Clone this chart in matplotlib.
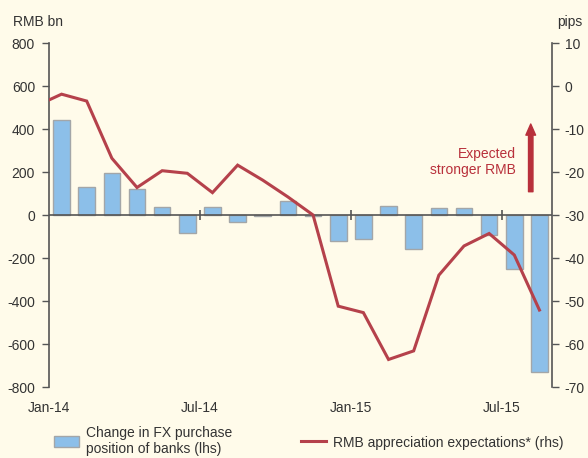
import matplotlib

matplotlib.use("Agg")
import matplotlib.pyplot as plt
import numpy as np
from matplotlib.lines import Line2D
from matplotlib.patches import Patch

# ---- palette --------------------------------------------------------------
BG = "#fffbea"
BAR = "#8cbfe9"
BAR_EDGE = "#a3a6a8"
RED = "#b5414b"
ARROW_RED = "#b8303b"
INK = "#333333"
AXIS = "#555555"

plt.rcParams["font.family"] = ["Liberation Sans", "DejaVu Sans"]
plt.rcParams["axes.unicode_minus"] = False

# ---- data (monthly, Jan-14 .. Aug-15) ---------------------------------------
months = ["Jan-14", "Feb-14", "Mar-14", "Apr-14", "May-14", "Jun-14",
          "Jul-14", "Aug-14", "Sep-14", "Oct-14", "Nov-14", "Dec-14",
          "Jan-15", "Feb-15", "Mar-15", "Apr-15", "May-15", "Jun-15",
          "Jul-15", "Aug-15"]
fx_purchase = [440, 130, 194, 120, 39, -86, 39, -31, -3, 66, -3, -121,
               -110, 42, -156, 34, 34, -94, -253, -730]
# expectations series starts one month earlier (Dec-13), clipped by the axis
exp_months = ["Dec-13"] + months
rmb_expect = [-4.6, -1.9, -3.5, -16.8, -23.6, -19.7, -20.3, -24.8, -18.4,
              -21.9, -25.8, -30.0, -51.2, -52.7, -63.6, -61.6, -44.0, -37.2,
              -34.3, -39.3, -52.1]
tick_labels = ["Jan-14", "Jul-14", "Jan-15", "Jul-15"]


def build():
    fig = plt.figure(figsize=(5.88, 4.58), dpi=100, facecolor=BG)
    ax = fig.add_axes([0.0833, 0.155, 0.8555, 0.7511])
    ax.set_facecolor(BG)

    x = np.arange(len(months)) + 0.5
    ax.bar(x, fx_purchase, width=0.66, color=BAR, edgecolor=BAR_EDGE,
           linewidth=1.0, zorder=2)
    ax.axhline(0, color=AXIS, lw=1.2, zorder=3)

    ax.set_xlim(0, len(months))
    ax.set_ylim(-800, 800)
    ax.set_yticks(np.arange(-800, 801, 200))

    # x ticks at month boundaries; small marks crossing the zero line
    tick_pos = [months.index(m) for m in tick_labels]
    ax.set_xticks(tick_pos)
    ax.set_xticklabels(tick_labels)
    ax.tick_params(axis="x", length=0, pad=10, labelsize=10, colors=INK)
    ax.vlines(tick_pos[1:], -25, 25, color=AXIS, lw=1.2, zorder=3)

    for s in ("top", "bottom", "right"):
        ax.spines[s].set_visible(False)
    ax.spines["left"].set_color(AXIS)
    ax.spines["left"].set_linewidth(1.2)
    ax.tick_params(axis="y", direction="out", length=5, width=1.0,
                   color=AXIS, pad=5, labelsize=10, labelcolor=INK)

    # right axis: expectations line
    ax2 = ax.twinx()
    ex = np.arange(len(exp_months)) - 0.5
    ax2.plot(ex, rmb_expect, color=RED, lw=2.2, solid_joinstyle="miter",
             zorder=4)
    ax2.set_ylim(-70, 10)
    ax2.set_yticks(np.arange(-70, 11, 10))
    ax2.set_xlim(0, len(months))
    for s in ("top", "bottom", "left"):
        ax2.spines[s].set_visible(False)
    ax2.spines["right"].set_color(AXIS)
    ax2.spines["right"].set_linewidth(1.2)
    ax2.tick_params(axis="y", direction="out", length=5, width=1.0,
                    color=AXIS, pad=4, labelsize=10, labelcolor=INK)

    # axis unit labels
    fig.text(13 / 588, 1 - 22 / 458, "RMB bn", ha="left", va="center",
             fontsize=10, color=INK)
    fig.text(557 / 588, 1 - 22 / 458, "pips", ha="left", va="center",
             fontsize=10, color=INK)

    # annotation: arrow + text
    ax.annotate("", xy=(0.9577, 0.7645), xytext=(0.9577, 0.5677),
                xycoords="axes fraction", textcoords="axes fraction",
                arrowprops=dict(arrowstyle="simple,head_length=0.8,"
                                "head_width=0.7,tail_width=0.32",
                                color=ARROW_RED, mutation_scale=10,
                                shrinkA=0, shrinkB=0))
    ax.text(0.9283, 0.6537, "Expected\nstronger RMB", transform=ax.transAxes,
            ha="right", va="center", multialignment="right", fontsize=10,
            color=ARROW_RED, linespacing=1.15)

    # legend
    handles = [Patch(facecolor=BAR, edgecolor=BAR_EDGE, linewidth=1.0),
               Line2D([0], [0], color=RED, lw=2.2)]
    labels = ["Change in FX purchase\nposition of banks (lhs)",
              "RMB appreciation expectations* (rhs)"]
    fig.legend(handles, labels, loc="center left",
               bbox_to_anchor=(48 / 588, 1 - 441 / 458), ncol=2,
               frameon=False, fontsize=10, handlelength=1.8,
               handleheight=0.8, handletextpad=0.5, columnspacing=5.0,
               labelcolor=INK, borderaxespad=0)

    fig.savefig("out.png", dpi=100, facecolor=BG)
    plt.close(fig)


if __name__ == "__main__":
    build()
